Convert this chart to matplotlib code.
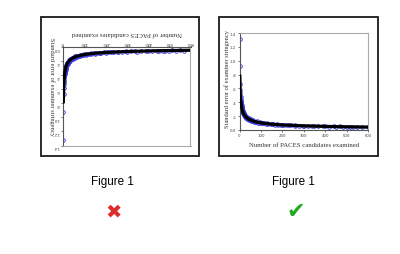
import matplotlib
matplotlib.use("Agg")
import matplotlib.pyplot as plt
from matplotlib.patches import Rectangle

# ---- data ----
cand_n = [1, 2, 3, 3, 4, 4, 5, 5, 6, 6, 7, 8, 8, 9, 10, 10, 11, 12, 13, 14,
          15, 16, 17, 18, 20, 21, 23, 25, 27, 29, 31, 34, 37, 40, 43, 46, 50, 54, 58, 63,
          68, 73, 79, 85, 92, 99, 107, 115, 124, 134, 145, 156, 168, 180, 194, 208, 223, 240, 258, 276,
          296, 318, 340, 365, 392, 420, 450, 482, 515, 550, 600]
cand_se = [1.32, 0.92, 0.66, 0.58, 0.53, 0.49, 0.47, 0.43, 0.42, 0.39, 0.40, 0.36, 0.38, 0.34, 0.33, 0.36, 0.31, 0.30, 0.29, 0.27,
           0.27, 0.25, 0.25, 0.24, 0.23, 0.22, 0.21, 0.205, 0.19, 0.185, 0.18, 0.17, 0.165, 0.16, 0.152, 0.148, 0.142, 0.137, 0.13, 0.126,
           0.121, 0.117, 0.112, 0.108, 0.104, 0.100, 0.097, 0.094, 0.09, 0.087, 0.084, 0.081, 0.078, 0.075, 0.072, 0.07, 0.068, 0.065, 0.063, 0.061,
           0.059, 0.057, 0.055, 0.053, 0.051, 0.05, 0.048, 0.047, 0.045, 0.044, 0.041]
extra_n = [12, 16, 22, 28, 35, 45, 55, 65, 80, 95, 110, 130, 150, 175, 200, 230, 260, 300, 350, 400, 440, 470, 500, 530, 570]
extra_se = [0.33, 0.28, 0.245, 0.215, 0.19, 0.168, 0.152, 0.14, 0.125, 0.115, 0.106, 0.098, 0.09, 0.084, 0.078, 0.073, 0.069,
            0.064, 0.06, 0.056, 0.053, 0.052, 0.05, 0.049, 0.047]
fit_n = [1.5, 2, 3, 4, 5, 7, 10, 15, 20, 30, 40, 50, 70, 100, 150, 200, 300, 400, 500, 600]
fit_se = [0.80, 0.72, 0.59, 0.51, 0.46, 0.39, 0.325, 0.265, 0.23, 0.188, 0.163, 0.146, 0.123, 0.103, 0.084, 0.073, 0.06, 0.052, 0.046, 0.042]

x_ticks = [0, 100, 200, 300, 400, 500, 600]
y_ticks = [0.0, 0.2, 0.4, 0.6, 0.8, 1.0, 1.2, 1.4]
y_tick_labels = ["0.0", ".2", ".4", ".6", ".8", "1.0", "1.2", "1.4"]
x_label = "Number of PACES candidates examined"
y_label = "Standard error of examiner stringency"
caption = "Figure 1"

W, H = 400, 255
fig = plt.figure(figsize=(W / 100, H / 100), dpi=100)
fig.patch.set_facecolor("white")


def fx(px):
    return px / W


def fy(py):
    return 1 - py / H


def panel(x0, y0, x1, y1):
    fig.add_artist(Rectangle((fx(x0), fy(y1)), fx(x1) - fx(x0), fy(y0) - fy(y1),
                             transform=fig.transFigure, fill=False, lw=1.3, ec="#1a1a1a"))


def chart(ax, flipped):
    ax.plot(cand_n, cand_se, "o", mfc="none", mec="#3535dd", ms=2.6, mew=0.6, zorder=2)
    ax.plot(extra_n, extra_se, "o", mfc="none", mec="#3535dd", ms=2.6, mew=0.6, zorder=2)
    ax.plot(fit_n, fit_se, "-", color="black", lw=2.3, zorder=3, solid_capstyle="butt")
    ax.set_xlim(0, 600)
    if flipped:
        ax.set_ylim(1.4, 0)
    else:
        ax.set_ylim(0, 1.4)
    ax.set_xticks(x_ticks)
    ax.set_yticks(y_ticks)
    ax.set_yticklabels(y_tick_labels)
    ax.tick_params(length=1.5, width=0.5, pad=1, labelsize=2.8, colors="#444444")
    for s in ax.spines.values():
        s.set_linewidth(0.8)
        s.set_color("#aaaaaa")
    ax.spines["left"].set_color("#555555")
    if flipped:
        ax.spines["top"].set_color("#555555")
        ax.tick_params(axis="x", top=True, bottom=False, labeltop=True, labelbottom=False,
                       labelrotation=180)
        ax.tick_params(axis="y", labelrotation=180)
    else:
        ax.spines["bottom"].set_color("#555555")


panel(40.5, 18, 199, 157)
panel(219, 18, 378, 157)

# right (upright) chart
axr = fig.add_axes([fx(239.5), fy(131), fx(368) - fx(239.5), fy(34) - fy(131)])
chart(axr, False)
fig.text(fx(227), fy(79), y_label, rotation=90, ha="center", va="center",
         family="Liberation Serif", fontsize=4.6, color="#333333")
fig.text(fx(304), fy(146), x_label, ha="center", va="center",
         family="Liberation Serif", fontsize=4.9, color="#333333")

# left (vertically flipped) chart
axl = fig.add_axes([fx(63), fy(146.5), fx(190.5) - fx(63), fy(48.3) - fy(146.5)])
chart(axl, True)
fig.text(fx(51.5), fy(87), y_label, rotation=270, ha="center", va="center",
         family="Liberation Serif", fontsize=4.6, color="#333333")
fig.text(fx(127), fy(34), x_label, rotation=180, ha="center", va="center",
         family="Liberation Serif", fontsize=4.9, color="#333333")

# captions and marks
fig.text(fx(112.5), fy(181.5), caption, ha="center", va="center",
         family="Liberation Sans", fontsize=8.4, color="black")
fig.text(fx(293.5), fy(181.5), caption, ha="center", va="center",
         family="Liberation Sans", fontsize=8.4, color="black")
fig.text(fx(113.5), fy(212.5), "\u2716", ha="center", va="center",
         family="DejaVu Sans", fontsize=14, color="#dd2a2a")
fig.text(fx(296), fy(212.5), "\u2714", ha="center", va="center",
         family="DejaVu Sans", fontsize=16, color="#1faa1f")

fig.savefig("out.png", dpi=100, facecolor="white")
